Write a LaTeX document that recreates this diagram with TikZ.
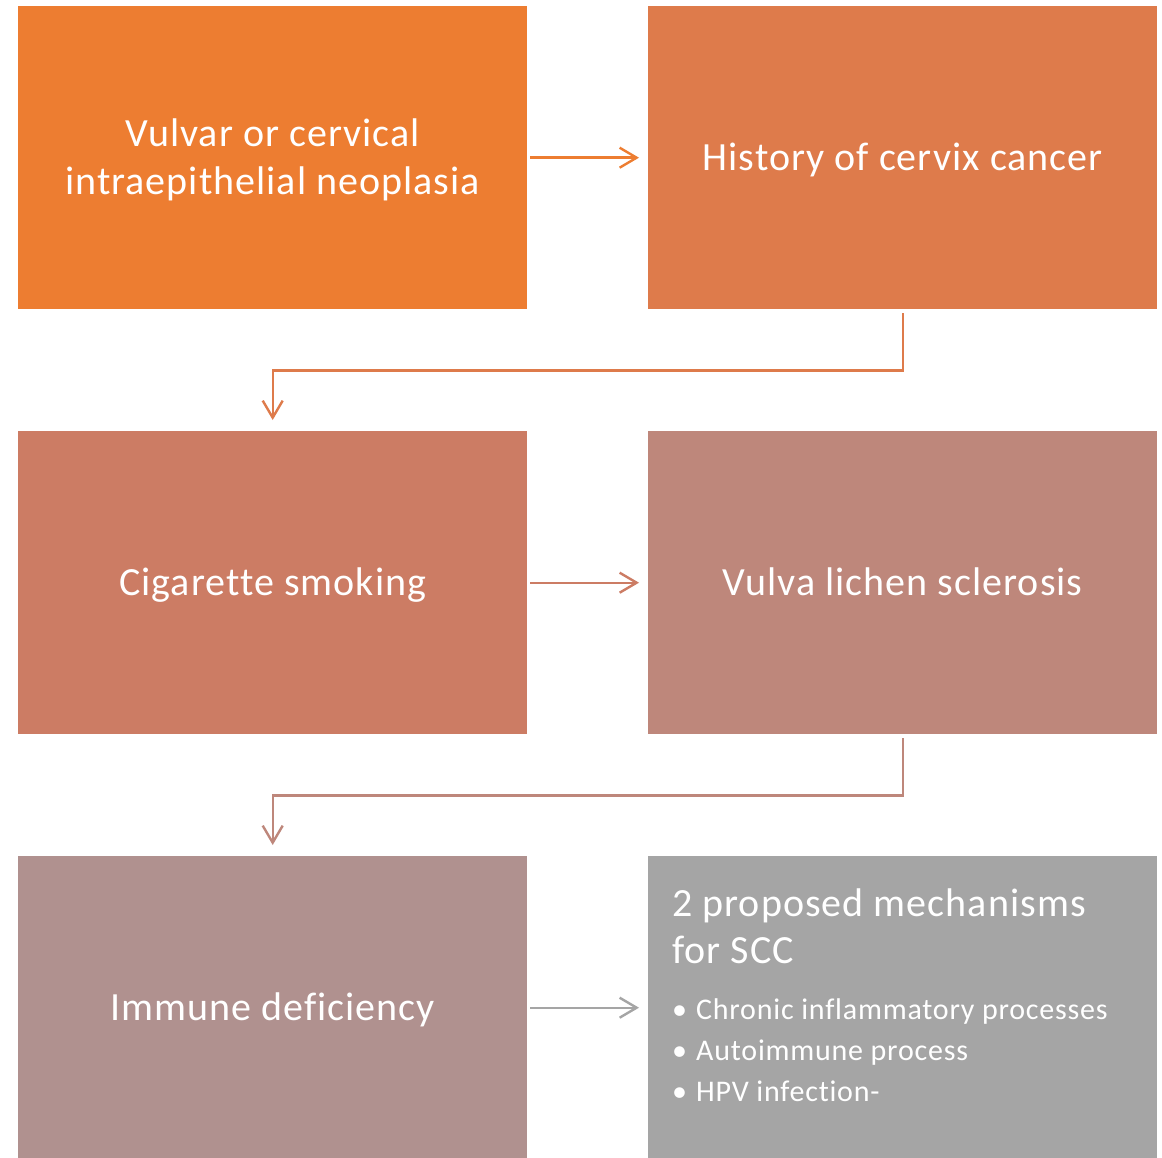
\documentclass[tikz,border=0pt]{standalone}
\usepackage{fontspec}
\setmainfont{Carlito}[Ligatures=NoCommon]
\newfontfamily\boxfont{Carlito}[Ligatures=NoCommon, LetterSpace=2.6]
\usetikzlibrary{arrows.meta}
\definecolor{cA}{HTML}{ED7D31}
\definecolor{cB}{HTML}{DE7B4B}
\definecolor{cC}{HTML}{CC7C64}
\definecolor{cD}{HTML}{BE877B}
\definecolor{cE}{HTML}{B0918F}
\definecolor{cF}{HTML}{A5A5A5}
\tikzset{
  box/.style={rectangle, draw=none, minimum width=509pt, minimum height=303pt, anchor=north west, inner sep=0pt},
  boxtext/.style={text=white, align=center, font=\boxfont\fontsize{40}{48}\selectfont},
  conn/.style={line width=2.4pt, -{Straight Barb[length=17pt,width=20pt,line width=2.4pt]}, shorten <=3pt, shorten >=9pt},
  elbow/.style={line width=2.4pt, -{Straight Barb[length=17pt,width=20pt,line width=2.4pt]}, shorten <=4pt, shorten >=11pt},
}
\begin{document}
\begin{tikzpicture}[x=1pt,y=-1pt]
\useasboundingbox (0,0) rectangle (1162,1158);
\fill[white] (0,0) rectangle (1162,1158);
\node[box, fill=cA] (b1) at (18,6) {};
\node[box, fill=cB] (b2) at (648,6) {};
\node[box, fill=cC] (b3) at (18,431) {};
\node[box, fill=cD] (b4) at (648,431) {};
\node[box, fill=cE] (b5) at (18,856) {};
\node[box, fill=cF] (b6) at (648,856) {};

\node[boxtext] (t1) at ([yshift=-2pt]b1.center) {Vulvar or cervical\\intraepithelial neoplasia};
\node[boxtext] (t2) at ([yshift=-2pt]b2.center) {History of cervix cancer};
\node[boxtext] (t3) at ([yshift=-2pt]b3.center) {Cigarette smoking};
\node[boxtext] (t4) at ([yshift=-2pt]b4.center) {Vulva lichen sclerosis\vphantom{y}};
\node[boxtext] (t5) at ([yshift=-2pt]b5.center) {Immune deficiency};
\node[text=white, align=left, anchor=west, inner sep=0pt, font=\boxfont\fontsize{40}{47}\selectfont] (t6) at (672,926) {2 proposed mechanisms\\for SCC};
\node[text=white, align=left, anchor=west, inner sep=0pt, font=\boxfont\fontsize{30}{41}\selectfont] (t7) at (672,1050)
  {\makebox[24pt][l]{•}Chronic inflammatory processes\\\makebox[24pt][l]{•}Autoimmune process\\\makebox[24pt][l]{•}HPV infection-};

\draw[conn, draw=cA] (b1) -- (b2);
\draw[elbow, draw=cB] (b2.south) -- ++(0,61) -| (b3.north);
\draw[conn, draw=cC] (b3) -- (b4);
\draw[elbow, draw=cD] (b4.south) -- ++(0,61) -| (b5.north);
\draw[conn, draw=cF] (b5) -- (b6);
\end{tikzpicture}
\end{document}
